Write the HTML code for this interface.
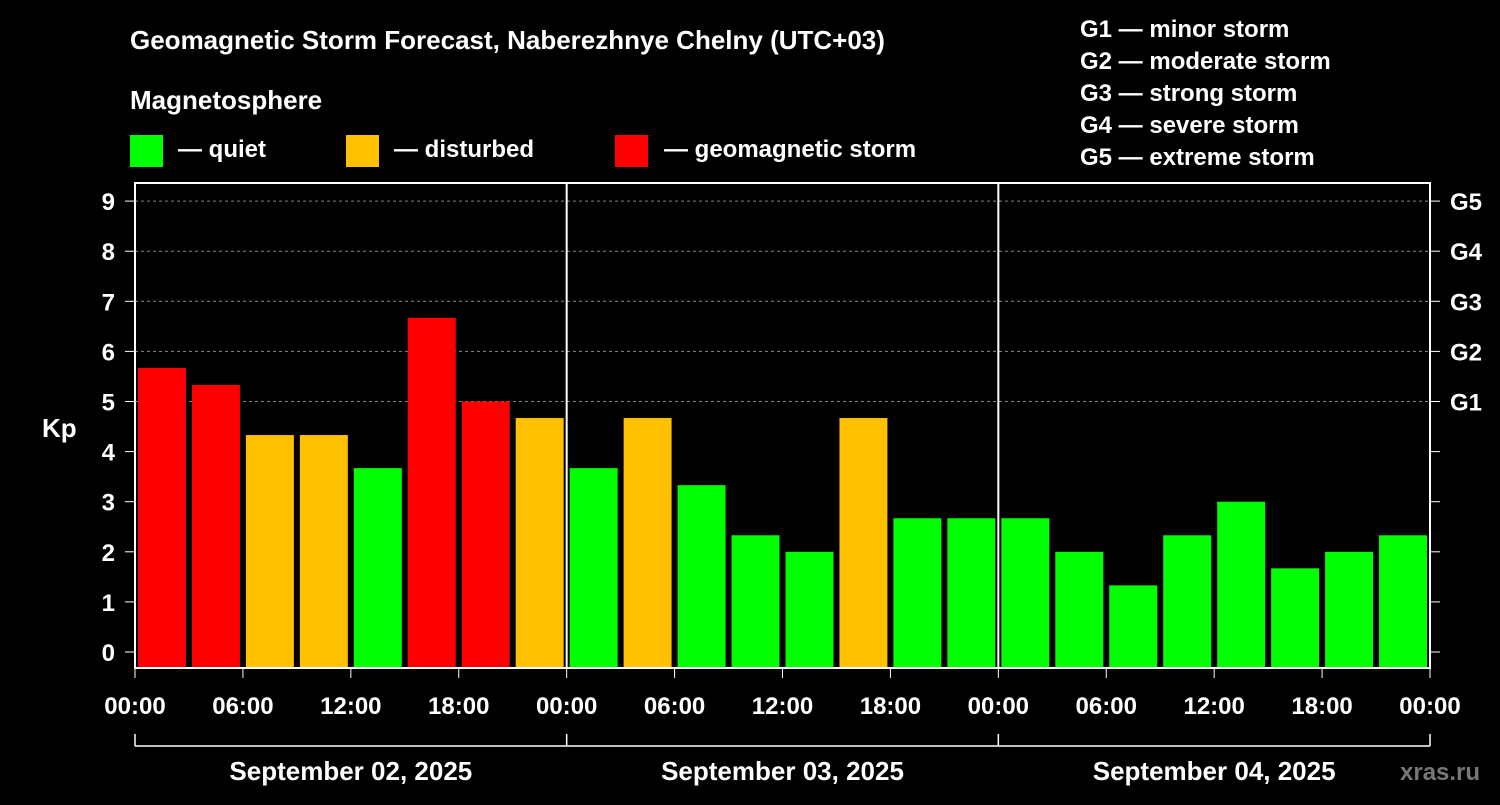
<!DOCTYPE html>
<html><head><meta charset="utf-8">
<style>
html,body{margin:0;padding:0;background:#000;}
svg text{font-family:"Liberation Sans",Arial,sans-serif;font-weight:bold;fill:#fff;}
</style></head>
<body>
<svg id="chart" width="1500" height="800" viewBox="0 0 1500 800" xmlns="http://www.w3.org/2000/svg">
<rect x="0" y="0" width="1500" height="800" fill="#000"/>
<text x="130" y="49" font-size="26">Geomagnetic Storm Forecast, Naberezhnye Chelny (UTC+03)</text>
<text x="130" y="109" font-size="26">Magnetosphere</text>
<g>
<rect x="130" y="135" width="33" height="32" fill="#00ff00"/>
<text x="178" y="157" font-size="24">— quiet</text>
<rect x="346" y="135" width="33" height="32" fill="#ffc000"/>
<text x="394" y="157" font-size="24">— disturbed</text>
<rect x="615" y="135" width="33" height="32" fill="#ff0000"/>
<text x="664" y="157" font-size="24">— geomagnetic storm</text>
</g>
<g font-size="24">
<text x="1080" y="37">G1 — minor storm</text>
<text x="1080" y="69">G2 — moderate storm</text>
<text x="1080" y="101">G3 — strong storm</text>
<text x="1080" y="133">G4 — severe storm</text>
<text x="1080" y="165">G5 — extreme storm</text>
</g>
<g id="grid"></g>
<g id="bars"></g>
<g id="axes"></g>
<text x="42" y="437" font-size="26">Kp</text>
<text x="1400" y="780" font-size="24" style="fill:#777">xras.ru</text>
</svg>
<script>
const kpValues=[5.67,5.33,4.33,4.33,3.67,6.67,5.0,4.67,3.67,4.67,3.33,2.33,2.0,4.67,2.67,2.67,2.67,2.0,1.33,2.33,3.0,1.67,2.0,2.33];
const yTicks=[0,1,2,3,4,5,6,7,8,9];
const gLabels=["G1","G2","G3","G4","G5"];
const xTickLabels=["00:00","06:00","12:00","18:00","00:00","06:00","12:00","18:00","00:00","06:00","12:00","18:00","00:00"];
const dayLabels=["September 02, 2025","September 03, 2025","September 04, 2025"];

const NS="http://www.w3.org/2000/svg";
const L=135,R=1430,T=183,B=668;
const y=v=>652-v*50.1;
const x=i=>L+(R-L)*i/kpValues.length;
function mk(tag,attrs,parent){const e=document.createElementNS(NS,tag);for(const k in attrs)e.setAttribute(k,attrs[k]);parent.appendChild(e);return e;}
const grid=document.getElementById('grid'),bars=document.getElementById('bars'),axes=document.getElementById('axes');
const color=v=>v>=5?"#ff0000":(v>=4?"#ffc000":"#00ff00");
for(let k=5;k<=9;k++){
  const g=mk('line',{x1:L,x2:R,y1:y(k),y2:y(k),stroke:"#888","stroke-dasharray":"3,3","stroke-width":1},grid);
  
  
}
kpValues.forEach((v,i)=>{
  const r=mk('rect',{x:x(i)+3,y:y(v),width:(R-L)/kpValues.length-6,height:B-y(v),fill:color(v)},bars);
  
  
});
const fr=mk('rect',{x:L,y:T,width:R-L,height:B-T,fill:"none",stroke:"#fff","stroke-width":2},axes);


const perDay=kpValues.length/dayLabels.length;
for(let d=1;d<dayLabels.length;d++){
  const s=mk('line',{x1:x(d*perDay),x2:x(d*perDay),y1:T,y2:B,stroke:"#fff","stroke-width":2},axes);
  
  
}
yTicks.forEach(t=>{
  mk('line',{x1:L-10,x2:L,y1:y(t),y2:y(t),stroke:"#fff","stroke-width":1},axes);
  mk('line',{x1:R,x2:R+10,y1:y(t),y2:y(t),stroke:"#fff","stroke-width":1},axes);
  const tx=mk('text',{x:115,y:y(t)+9,"font-size":24,"text-anchor":"end"},axes);
  tx.textContent=t;
  
  
});
gLabels.forEach((g,i)=>{
  const tx=mk('text',{x:1450,y:y(5+i)+9,"font-size":24},axes);
  tx.textContent=g;
  
  
});
xTickLabels.forEach((lab,i)=>{
  const xx=L+(R-L)*i/(xTickLabels.length-1);
  mk('line',{x1:xx,x2:xx,y1:B,y2:B+10,stroke:"#fff","stroke-width":1},axes);
  const tx=mk('text',{x:xx,y:714,"font-size":24,"text-anchor":"middle"},axes);
  tx.textContent=lab;
  
  
});
mk('line',{x1:L,x2:R,y1:746,y2:746,stroke:"#fff","stroke-width":1.5},axes);
for(let d=0;d<=dayLabels.length;d++){
  const xx=L+(R-L)*d/dayLabels.length;
  mk('line',{x1:xx,x2:xx,y1:734,y2:746,stroke:"#fff","stroke-width":1.5},axes);
}
dayLabels.forEach((lab,d)=>{
  const xx=L+(R-L)*(d+0.5)/dayLabels.length;
  const tx=mk('text',{x:xx,y:780,"font-size":26,"text-anchor":"middle"},axes);
  tx.textContent=lab;
  
  
});
</script>
</body></html>
